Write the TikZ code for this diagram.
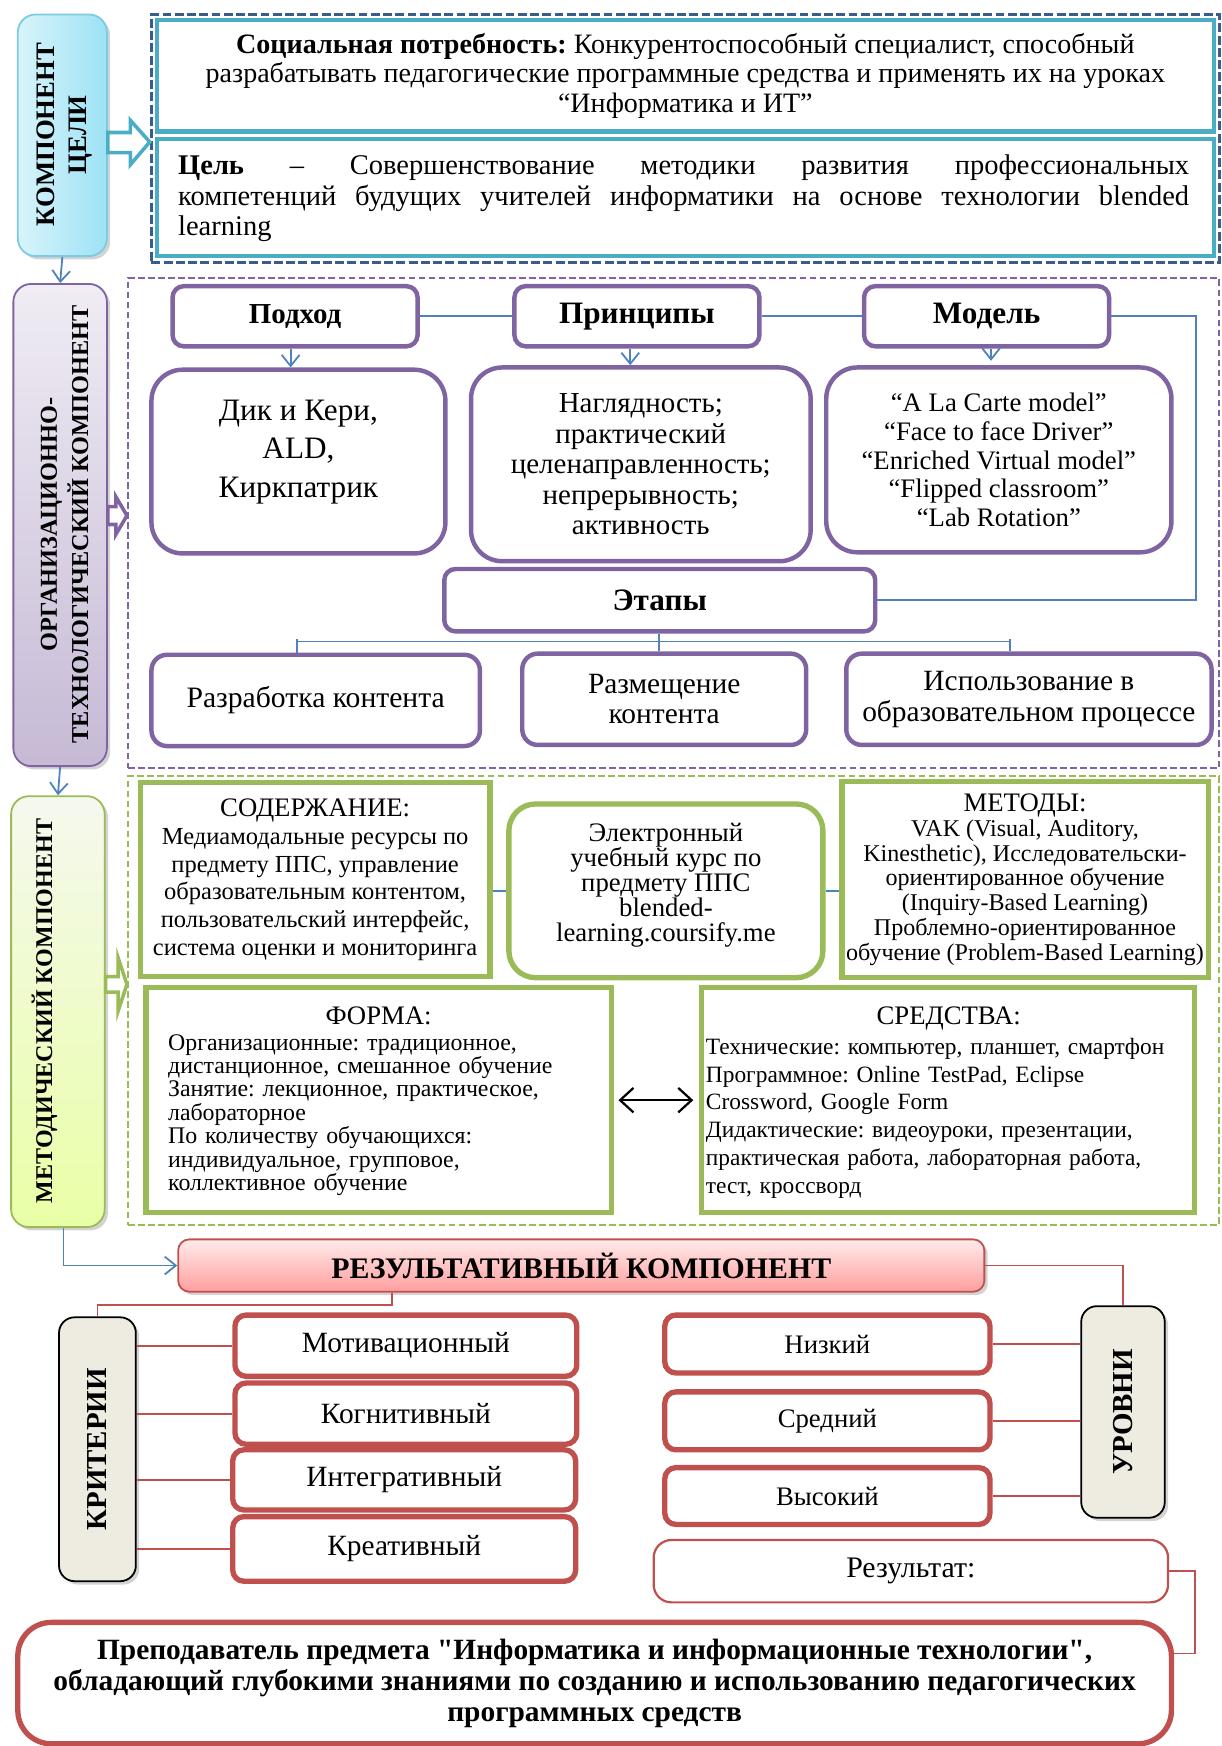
\documentclass[tikz,border=0pt]{standalone}
\usepackage{fontspec}
\setmainfont{Liberation Serif}
\font\qfb="Liberation Serif/B" at 13.2pt
\usetikzlibrary{arrows.meta,shadows,calc}
\newcommand\fsz[2]{\fontsize{#1}{#2}\selectfont}
\definecolor{tealc}{HTML}{4BACC6}
\definecolor{dblue}{HTML}{385D8A}
\definecolor{purp}{HTML}{8064A2}
\definecolor{grn}{HTML}{9BBB59}
\definecolor{redc}{HTML}{C0504D}
\definecolor{lblue}{HTML}{4F81BD}
\definecolor{beige}{HTML}{EEECE1}
\definecolor{cyanL}{HTML}{D8F4FB}
\definecolor{cyanR}{HTML}{9DE2F5}
\definecolor{cyanB}{HTML}{7CCBE0}
\frenchspacing
\tikzset{
  x=0.5pt, y=-0.5pt,
  bb/.style n args={4}{minimum width={(#3-(#1))*0.5pt}, minimum height={(#4-(#2))*0.5pt}, at={({(#1+#3)/2},{(#2+#4)/2})}},
  box/.style={inner sep=0pt, align=center},
  tealbox/.style={box, draw=tealc, line width=2pt},
  pbox/.style={box, draw=purp, line width=2pt, rounded corners=5pt},
  pbig/.style={box, draw=purp, line width=2pt, rounded corners=14pt},
  gbox/.style={box, draw=grn, line width=2.4pt},
  rbox/.style={box, draw=redc, line width=2.4pt, rounded corners=5pt},
  side/.style={box, line width=0.8pt, rounded corners=8pt,
     drop shadow={opacity=0.35, shadow xshift=1.5pt, shadow yshift=-1.5pt}},
  vtext/.style={rotate=90, align=center, font=\bfseries\fsz{10.9}{14}},
  conn/.style={draw=lblue, line width=0.8pt},
  rconn/.style={draw=redc, line width=0.8pt},
  barb/.style={-{Straight Barb[length=5pt,width=8pt]}},
}
\begin{document}
\begin{tikzpicture}
\useasboundingbox (0,0) rectangle (1097,1568);
% ---------------- goal component
\node[side, draw=cyanB, left color=cyanL, right color=cyanR, bb={16}{13}{96}{230}] (celi) {};
\node[vtext, font=\bfseries\fsz{12}{14.5}] (celit) at (58,121) {КОМПОНЕНТ\\ЦЕЛИ};
\node[box, draw=dblue, line width=1.5pt, dash pattern=on 4pt off 1.5pt, bb={136}{13}{1095}{236}] (goalgrp) {};
\node[tealbox, bb={141}{18}{1090}{118}, font=\fsz{12.6}{13.25}] (social) {\textbf{Социальная потребность:} Конкурентоспособный специалист, способный\\разрабатывать педагогические программные средства и применять их на уроках\\“Информатика и ИТ”};
\node[tealbox, bb={141}{125}{1090}{230}] (goal) {};
\node[box, text width=454pt, align=left, font=\fsz{12.8}{13.5}] (goalt) at (614,178) {%
\makebox[454pt][s]{\textbf{Цель}\hfil\ –\hfil\ Совершенствование\hfil\ методики\hfil\ развития\hfil\ профессиональных}\\
\makebox[454pt][s]{компетенций\hfil\ будущих\hfil\ учителей\hfil\ информатики\hfil\ на\hfil\ основе\hfil\ технологии\hfil\ blended}\\
learning};
\draw[draw=tealc, line width=1.6pt, fill=white] (celi.east |- 0,119) -- (117,119) -- (117,108) -- (goalgrp.west |- 0,127.5) -- (117,148) -- (117,137) -- (celi.east |- 0,137) -- cycle;
% ---------------- organisational component
\node[side, draw=purp, top color=purp!12, bottom color=purp!45, bb={12}{255}{96}{688}] (org) {};
\node[vtext] (orgt) at (58,471) {ОРГАНИЗАЦИОННО-\\ТЕХНОЛОГИЧЕСКИЙ КОМПОНЕНТ};
\draw[conn, barb] (celi.south) -- (org.north);
\node[box, draw=purp, line width=1pt, dash pattern=on 3pt off 1.5pt, bb={115}{250}{1095}{690}] (orggrp) {};
\draw[draw=purp, line width=1.6pt, fill=white] (org.east |- 0,455) -- (104,455) -- (104,446) -- (orggrp.west |- 0,463) -- (104,480) -- (104,471) -- (org.east |- 0,471) -- cycle;
\node[pbox, bb={155}{257}{375}{311}, font=\bfseries\fsz{13}{15}] (podhod) {Подход};
\node[pbox, bb={462}{257}{682}{311}, font=\bfseries\fsz{14}{16}] (princ) {Принципы};
\node[pbox, bb={776}{257}{996}{311}, font=\bfseries\fsz{14}{16}] (model) {Модель};
\node[pbig, bb={136}{332}{400}{497}] (dik) {};
\node[box, font=\fsz{14}{17.5}] (dikt) at (268,406) {Дик и Кери,\\ALD,\\Киркпатрик};
\node[pbig, bb={423}{330}{728}{504}, font=\fsz{13}{13.75}] (nagl) {Наглядность;\\практический\\целенаправленность;\\непрерывность;\\активность};
\node[pbig, bb={742}{330}{1052}{496}, font=\fsz{12}{13}] (models) {“A La Carte model”\\“Face to face Driver”\\“Enriched Virtual model”\\“Flipped classroom”\\“Lab Rotation”};
\node[pbox, bb={399}{511}{786}{567}, font=\bfseries\fsz{14}{16}] (etapy) {Этапы};
\node[pbox, rounded corners=7pt, bb={136}{588}{431}{670}, font=\fsz{13.3}{14}] (razr) {Разработка контента};
\node[pbox, rounded corners=7pt, bb={469}{587}{724}{669}, font=\fsz{13.2}{13.5}] (razm) {Размещение\\контента};
\node[pbox, rounded corners=7pt, bb={760}{587}{1088}{669}, font=\fsz{13.2}{14}] (ispol) {Использование в\\образовательном процессе};
\draw[conn] (podhod.east) -- (princ.west);
\draw[conn] (princ.east) -- (model.west);
\draw[conn] (model.east) -- ++(76,0) |- (etapy.east);
\draw[conn, barb] (podhod.south -| 261,0) -- (dik.north -| 261,0);
\draw[conn, barb] (princ.south -| 566,0) -- (nagl.north -| 566,0);
\draw[conn, barb] (model.south -| 890,0) -- (890,324);
\coordinate (t1) at (267,576);
\coordinate (t2) at (907,576);
\draw[conn] (etapy.south -| 592,0) -- (razm.north -| 592,0);
\draw[conn] (t1 |- razr.north) -- ($(t1)+(0,-2)$) (t1) -- (t2) ($(t2)+(0,-2)$) -- (t2 |- ispol.north);
% ---------------- methodical component
\node[side, draw=grn, top color=grn!10, bottom color=green!25!yellow!35, bb={10}{715}{94}{1102}] (metod) {};
\node[vtext, font=\bfseries\fsz{10.8}{14}] (metodt) at (40,908) {МЕТОДИЧЕСКИЙ КОМПОНЕНТ};
\draw[conn, barb] (org.south) -- (metod.north);
\node[box, draw=grn, line width=1pt, dash pattern=on 3pt off 1.5pt, bb={115}{697}{1095}{1100}] (metgrp) {};
\draw[draw=grn, line width=1.6pt, fill=white] (metod.east |- 0,877) -- (106,877) -- (106,860) -- (metgrp.west |- 0,884) -- (106,908) -- (106,891) -- (metod.east |- 0,891) -- cycle;
\node[gbox, bb={126}{703}{440}{877}, font=\fsz{11}{12.5}] (sod) {{\fsz{12}{13}СОДЕРЖАНИЕ:}\\Медиамодальные ресурсы по\\предмету ППС, управление\\образовательным контентом,\\пользовательский интерфейс,\\система оценки и мониторинга};
\node[gbox, rounded corners=12pt, bb={457}{722}{739}{878}] (elek) {};
\node[box, font=\fsz{12}{11.25}] (elekt) at (598,795) {Электронный\\учебный курс по\\предмету ППС\\blended-\\learning.coursify.me};
\node[gbox, bb={756}{702}{1085}{878}, font=\fsz{10.8}{11.15}] (metody) {{\fsz{12}{12}МЕТОДЫ:}\\VAK (Visual, Auditory,\\Kinesthetic), Исследовательски-\\ориентированное обучение\\(Inquiry-Based Learning)\\Проблемно-ориентированное\\обучение (Problem-Based Learning)};
\draw[conn] (elek.west -| sod.east) -- (elek.west);
\draw[conn] (elek.east) -- (elek.east -| metody.west);
\node[gbox, bb={131}{887}{549}{1089}] (forma) {};
\node[box, text width=189pt, align=left, font=\fsz{10.7}{10.5}] (format) at (340,989) {\makebox[189pt]{\fsz{12}{13}ФОРМА:}\\[1pt]Организационные: традиционное,\\дистанционное, смешанное обучение\\Занятие: лекционное, практическое,\\лабораторное\\По количеству обучающихся:\\индивидуальное, групповое,\\коллективное обучение};
\node[gbox, bb={630}{887}{1073}{1089}] (sredstva) {};
\node[box, text width=218pt, align=left, font=\fsz{10.5}{12.5}] (sredt) at (852,990) {\makebox[218pt]{\fsz{12}{13}СРЕДСТВА:}\\[1pt]Технические: компьютер, планшет, смартфон\\Программное: Online TestPad, Eclipse\\Crossword, Google Form\\Дидактические: видеоуроки, презентации,\\практическая работа, лабораторная работа,\\тест, кроссворд};
\draw[line width=1pt, {Straight Barb[length=6pt,width=11pt]}-{Straight Barb[length=6pt,width=11pt]}] ([xshift=2pt]forma.east) -- ([xshift=-2.5pt]sredstva.west);
% ---------------- result component
\node[side, rounded corners=5pt, draw=redc, top color=red!8, bottom color=red!38, bb={160}{1113}{884}{1160}, font=\bfseries\fsz{13.4}{14}] (rez) {РЕЗУЛЬТАТИВНЫЙ КОМПОНЕНТ};
\draw[conn, barb] ([xshift=2.5pt]metod.south) |- (rez.west);
\node[side, rounded corners=7pt, draw=black, fill=beige, bb={53}{1183}{122}{1420}] (kriter) {};
\node[vtext, font=\bfseries\fsz{13}{15}] (kritert) at (kriter.center) {КРИТЕРИИ};
\node[side, rounded corners=7pt, draw=black, fill=beige, bb={971}{1173}{1046}{1363}] (urovni) {};
\node[vtext, font=\bfseries\fsz{13}{15}] (urovnit) at (urovni.center) {УРОВНИ};
\coordinate (rk) at (352,1172);
\draw[rconn] (rk |- rez.south) -- (rk) -| (kriter.north);
\draw[rconn] (rez.east) -| (urovni.north);
\node[rbox, bb={211}{1181}{518}{1236}, font=\fsz{13.2}{14}] (mot) {Мотивационный};
\node[rbox, bb={211}{1242}{518}{1297}, font=\fsz{13.2}{14}] (kog) {Когнитивный};
\node[rbox, bb={209}{1302}{517}{1356}, font=\fsz{13.2}{14}] (integ) {Интегративный};
\node[rbox, bb={209}{1362}{517}{1420}, font=\fsz{13.2}{14}] (kreat) {Креативный};
\foreach \n in {mot,kog,integ,kreat} \draw[rconn] (kriter.east |- \n.west) -- (\n.west);
\node[rbox, bb={597}{1181}{889}{1233}, font=\fsz{12}{14}] (niz) {Низкий};
\node[rbox, bb={597}{1250}{889}{1302}, font=\fsz{12}{14}] (sred) {Средний};
\node[rbox, bb={597}{1318}{889}{1369}, font=\fsz{12}{14}] (vys) {Высокий};
\foreach \n in {niz,sred,vys} \draw[rconn] (\n.east) -- (\n.east -| urovni.west);
\node[box, draw=redc, line width=1pt, rounded corners=8pt, bb={587}{1383}{1049}{1439}, font=\fsz{13.4}{14}] (result) {Результат:};
\node[box, draw=redc, line width=2.4pt, rounded corners=15pt, bb={16}{1457}{1052}{1566}, font=\bfseries\fsz{13.2}{14}] (final) {Преподаватель предмета {\qfb"}Информатика и информационные технологии{\qfb"},\\обладающий глубокими знаниями по созданию и использованию педагогических\\программных средств};
\draw[rconn] (result.east) -- ++(23,0) |- ([yshift=13.25pt]final.east);
\end{tikzpicture}
\end{document}
